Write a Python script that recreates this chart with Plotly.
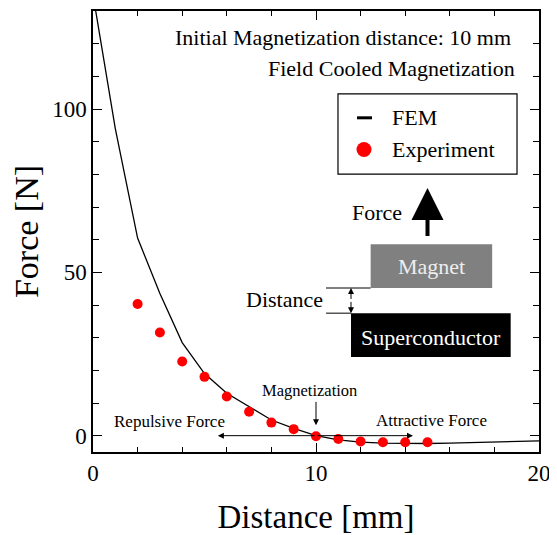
import plotly.graph_objects as go

# ---- data ----
fem_x = [0, 1, 2, 3, 4, 5, 6, 7, 8, 9, 10, 11, 12, 13, 14, 15, 16, 17, 18, 19, 20]
fem_force = [135, 94, 60.5, 43.5, 28.5, 19, 13, 8.8, 4.8, 2.2, 0, -1.3, -2.0, -2.3, -2.4,
             -2.4, -2.3, -2.1, -1.9, -1.8, -1.6]
exp_x = [2, 3, 4, 5, 6, 7, 8, 9, 10, 11, 12, 13, 14, 15]
exp_force = [40.3, 31.6, 22.7, 18.0, 12.0, 7.3, 4.0, 2.0, -0.2, -1.0, -1.8, -2.0, -2.0, -2.0]
x_ticks = [0, 10, 20]
y_ticks = [0, 50, 100]
legend_names = ["FEM", "Experiment"]

FONT = "Liberation Serif"
RED = "#ff0000"

fig = go.Figure()
fig.add_trace(go.Scatter(x=fem_x, y=fem_force, mode="lines", name=legend_names[0],
                         line=dict(color="black", width=1.3), showlegend=False))
fig.add_trace(go.Scatter(x=exp_x, y=exp_force, mode="markers", name=legend_names[1],
                         marker=dict(color=RED, size=10), showlegend=False))

ann = []
def text(x, y, s, size=22, color="black", xanchor="center", ref="x"):
    ann.append(dict(x=x, y=y, xref=ref, yref=ref.replace("x", "y"), text=s, showarrow=False,
                    xanchor=xanchor, yanchor="middle",
                    font=dict(family=FONT, size=size, color=color)))

def arrow(x0, y0, x1, y1, width=1, head=2, size=1.0):
    ann.append(dict(x=x1, y=y1, ax=x0, ay=y0, xref="x", yref="y", axref="x", ayref="y",
                    text="", showarrow=True, arrowhead=head, arrowsize=size,
                    arrowwidth=width, arrowcolor="black"))

text(18.83, 122, "Initial Magnetization distance: 10 mm", 22, xanchor="right")
text(19.0, 112.4, "Field Cooled Magnetization", 22, xanchor="right")
text(12.73, 68.3, "Force", 22)
arrow(15.0, 60.7, 15.0, 75.8, width=4, head=2, size=1.6)
text(15.16, 51.7, "Magnet", 22, color="#eeeeee")
text(15.16, 29.9, "Superconductor", 22, color="white")
text(10.4, 41.7, "Distance", 22, xanchor="right")
arrow(11.57, 41.4, 11.57, 45.2, width=1, head=2, size=1.2)
arrow(11.57, 41.4, 11.57, 37.5, width=1, head=2, size=1.2)
text(9.73, 13.9, "Magnetization", 16.5)
arrow(10.0, 10.8, 10.0, 3.2, width=1, head=2, size=1.2)
text(3.45, 4.4, "Repulsive Force", 17)
text(15.2, 4.5, "Attractive Force", 17)
arrow(10.0, 0, 5.6, 0, width=1, head=2, size=1.2)
arrow(10.0, 0, 14.35, 0, width=1, head=2, size=1.2)

# custom legend (paper coordinates)
text(0.6659, 0.7578, legend_names[0], 22, xanchor="left", ref="paper")
text(0.6659, 0.686, legend_names[1], 22, xanchor="left", ref="paper")

shapes = [
    dict(type="rect", xref="x", yref="y", x0=12.45, x1=17.9, y0=45.2, y1=58.6,
         fillcolor="#808080", line=dict(width=0), layer="below"),
    dict(type="rect", xref="x", yref="y", x0=11.57, x1=18.73, y0=24.1, y1=37.5,
         fillcolor="black", line=dict(width=0), layer="below"),
    dict(type="line", xref="x", yref="y", x0=10.45, x1=12.45, y0=45.2, y1=45.2,
         line=dict(color="black", width=1)),
    dict(type="line", xref="x", yref="y", x0=10.45, x1=11.57, y0=37.5, y1=37.5,
         line=dict(color="black", width=1)),
    # legend box and symbols
    dict(type="rect", xref="paper", yref="paper", x0=0.5493, x1=0.9507, y0=0.630, y1=0.8123,
         fillcolor="white", line=dict(color="black", width=1.2)),
    dict(type="line", xref="paper", yref="paper", x0=0.592, x1=0.6256, y0=0.7578, y1=0.7578,
         line=dict(color="black", width=3)),
    dict(type="circle", xref="paper", yref="paper", x0=0.5908, x1=0.6244, y0=0.6692,
         y1=0.7028, fillcolor=RED, line=dict(width=0)),
]

fig.update_layout(
    width=549, height=527,
    margin=dict(l=85, r=18, t=1, b=80),
    paper_bgcolor="white", plot_bgcolor="white",
    font=dict(family=FONT, color="black", size=20),
    showlegend=False,
    annotations=ann, shapes=shapes,
    xaxis=dict(range=[0, 20], tickvals=x_ticks, ticks="inside", ticklen=9,
               tickwidth=1, tickcolor="black", showline=True, linecolor="black",
               linewidth=1.5, mirror="ticks", showgrid=False, zeroline=False,
               tickfont=dict(family=FONT, size=23),
               minor=dict(dtick=2, ticks="inside", ticklen=5, tickcolor="black",
                          showgrid=False),
               title=dict(text="Distance [mm]", font=dict(family=FONT, size=33),
                          standoff=25)),
    yaxis=dict(range=[-5, 130], tickvals=y_ticks, ticks="inside", ticklen=9,
               tickwidth=1, tickcolor="black", showline=True, linecolor="black",
               linewidth=1.5, mirror="ticks", showgrid=False, zeroline=False,
               tickfont=dict(family=FONT, size=23),
               minor=dict(dtick=10, ticks="inside", ticklen=6, tickcolor="black",
                          showgrid=False),
               title=dict(text="Force [N]", font=dict(family=FONT, size=34),
                          standoff=7)),
)

fig.write_html("out.html")
